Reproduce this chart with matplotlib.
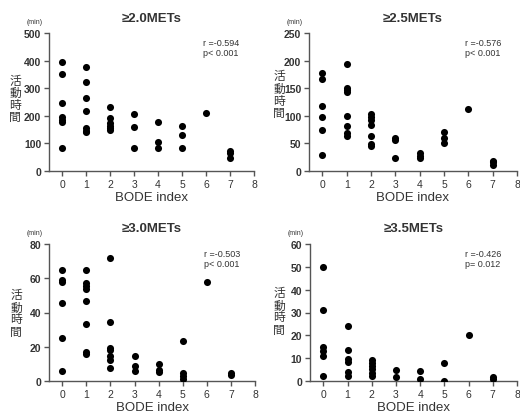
import matplotlib
matplotlib.use('Agg')
import matplotlib.pyplot as plt

plt.rcParams['font.family'] = ['Liberation Sans', 'Noto Sans CJK JP', 'DejaVu Sans']

# BODE index vs activity time (min) for each intensity threshold
x_20 = [0,0,0,0,0,0,0, 1,1,1,1,1,1,1, 2,2,2,2,2,2, 3,3,3, 4,4,4, 5,5,5, 6, 7,7,7]
y_20 = [394,351,246,194,186,176,83, 378,322,266,216,155,146,140,
        233,192,174,164,155,147, 205,160,84, 176,106,82, 163,132,85, 210, 74,64,47]

x_25 = [0,0,0,0,0,0, 1,1,1,1,1,1,1,1, 2,2,2,2,2,2,2, 3,3,3, 4,4,4, 5,5,5, 6, 7,7,7]
y_25 = [177,167,117,98,75,29, 193,151,146,143,99,82,68,64,
        104,98,92,83,63,49,46, 59,56,23, 32,28,23, 71,59,51, 113, 19,16,10]

x_30 = [0,0,0,0,0,0, 1,1,1,1,1,1,1,1, 2,2,2,2,2,2,2, 3,3,3, 4,4,4, 5,5,5,5, 6, 7,7]
y_30 = [65,58.8,57.6,45.5,25.3,5.7, 64.8,57,55.3,53.7,47,33.3,17,15.8,
        71.6,34.6,19.5,18.3,14.4,12.5,7.6, 14.4,8.6,5.7, 9.9,6.6,5.4,
        23.1,4.5,3,1.4, 58, 4.9,3.3]

x_35 = [0,0,0,0,0,0, 1,1,1,1,1,1, 2,2,2,2,2,2, 3,3, 4,4, 5,5, 6, 7,7]
y_35 = [50,31.1,15,13.1,10.8,2.1, 24.2,13.7,9.8,8.2,3.8,2.3,
        9.2,7.7,6.4,5.1,3.6,2.1, 5,1.9, 4.4,1.0, 8,0, 20.2, 1.6,0.7]

titles = ['\u22652.0METs', '\u22652.5METs', '\u22653.0METs', '\u22653.5METs']
stats = ['r =-0.594\np< 0.001', 'r =-0.576\np< 0.001',
         'r =-0.503\np< 0.001', 'r =-0.426\np= 0.012']
ylabel_chars = ['活', '動', '時', '間']
ymaxes = [500, 250, 80, 60]
ysteps = [100, 50, 20, 10]
xs = [x_20, x_25, x_30, x_35]
ys = [y_20, y_25, y_30, y_35]

W, H = 520, 414
boxes = [(49, 34, 254, 172), (309, 34, 517, 172),
         (49, 245, 255, 382), (310, 245, 517, 382)]
# pixel centre of the stacked y label in each panel
ylab_pos = [(15, 99), (279, 95), (16, 314), (279, 312)]

fig = plt.figure(figsize=(5.2, 4.14), dpi=100)
grey = '#333333'
for k in range(4):
    x0, y0, x1, y1 = boxes[k]
    ax = fig.add_axes([x0 / W, 1 - y1 / H, (x1 - x0) / W, (y1 - y0) / H])
    ax.scatter(xs[k], ys[k], s=26, color='black', zorder=3, linewidths=0)
    ax.set_xlim(-0.55, 8)
    ax.set_ylim(0, ymaxes[k])
    ax.set_xticks(range(9))
    ax.set_yticks(range(0, ymaxes[k] + 1, ysteps[k]))
    for s in ['top', 'right']:
        ax.spines[s].set_visible(False)
    for s in ['left', 'bottom']:
        ax.spines[s].set_color('#555555')
        ax.spines[s].set_linewidth(1.0)
    ax.tick_params(direction='out', length=3.5, width=1.0, color='#555555',
                   labelsize=7.5, labelcolor=grey, pad=2)
    for lbl in ax.get_yticklabels():
        lbl.set_fontweight('bold')
    ax.set_xlabel('BODE index', fontsize=9.5, color=grey, labelpad=2)
    ax.set_title(titles[k], fontsize=9.5, fontweight='bold', color=grey, pad=9)
    ax.text(0.75, 0.965, stats[k], transform=ax.transAxes, fontsize=6.5,
            color=grey, va='top', ha='left', linespacing=1.15)
    ax.text(-0.07, 1.06, '(min)', transform=ax.transAxes, fontsize=5,
            color=grey, ha='center', va='bottom')
    cx, cy = ylab_pos[k]
    for j, ch in enumerate(ylabel_chars):
        py = cy + (j - 1.5) * 12
        fig.text(cx / W, 1 - py / H, ch, family=['Noto Sans CJK JP'],
                 fontsize=8.5, color=grey, ha='center', va='center')

fig.savefig('out.png', dpi=100)
